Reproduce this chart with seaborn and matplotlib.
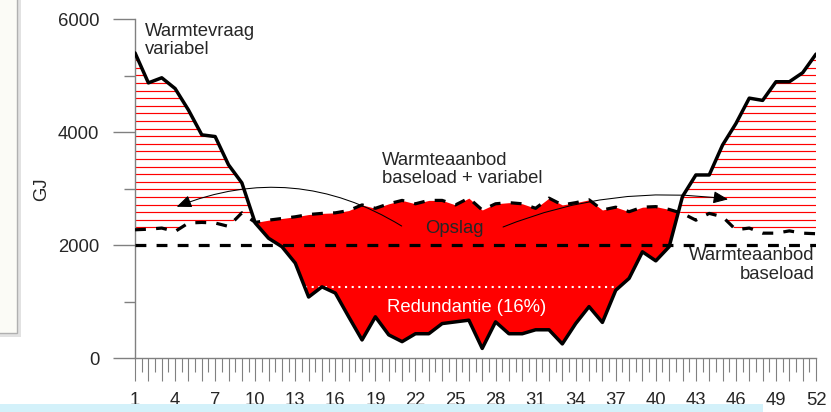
import numpy as np
import matplotlib
matplotlib.use("Agg")
import matplotlib.pyplot as plt
from matplotlib.path import Path
from matplotlib.patches import Rectangle
import seaborn as sns

# Data (GJ per week)
weeks = list(range(1, 53))
warmtevraag = [5400, 4870, 4960, 4770, 4390, 3950, 3920, 3420, 3100, 2390,
               2120, 1970, 1680, 1080, 1260, 1150, 730, 320, 730, 410,
               290, 430, 430, 610, 640, 670, 170, 640, 430, 430,
               500, 500, 250, 610, 910, 630, 1200, 1410, 1880, 1720,
               1970, 2860, 3240, 3240, 3770, 4150, 4600, 4560, 4890, 4890,
               5050, 5380]
aanbod_variabel = [2270, 2280, 2300, 2240, 2390, 2400, 2390, 2330, 2570, 2400,
                   2440, 2470, 2500, 2540, 2560, 2570, 2610, 2710, 2650, 2730,
                   2790, 2730, 2790, 2790, 2710, 2830, 2620, 2730, 2750, 2730,
                   2650, 2830, 2710, 2750, 2800, 2620, 2670, 2590, 2670, 2680,
                   2630, 2560, 2440, 2560, 2500, 2270, 2300, 2210, 2210, 2250,
                   2210, 2200]
aanbod_baseload = [2000] * 52
redundantie_niveau = 1250

y_ticks = [0, 2000, 4000, 6000]
y_minor_ticks = [1000, 3000, 5000]
x_labels = [str(w) if (w - 1) % 3 == 0 else "" for w in weeks]

sns.set_style("white")
plt.rcParams["font.family"] = ["Liberation Sans", "DejaVu Sans"]

fig = plt.figure(figsize=(8.31, 4.12), dpi=100)
ax = fig.add_axes([0.1625, 0.131, 0.8195, 0.8228])

x = np.array(weeks, dtype=float)
vraag = np.array(warmtevraag, dtype=float)
aanbod = np.array(aanbod_variabel, dtype=float)

# vraag boven aanbod: rode horizontale arcering
tekort = ax.fill_between(x, aanbod, vraag, where=vraag > aanbod, interpolate=True,
                         facecolor="none", edgecolor="none", lw=0)
clip = Path.make_compound_path(*tekort.get_paths())
arcering = ax.hlines(np.arange(25, 6000, 134.5), 1, 52, colors="#ff0000", lw=0.85, zorder=1)
arcering.set_clip_path(clip, ax.transData)

# aanbod boven vraag: opslag (rood gevuld)
ax.fill_between(x, vraag, aanbod, where=aanbod >= vraag, interpolate=True,
                color="#ff0000", lw=0, zorder=2)

# redundantie-lijn tussen de snijpunten met de vraag
onder = np.where(vraag < redundantie_niveau)[0]
i0, i1 = onder[0], onder[-1]
x_start = np.interp(redundantie_niveau, [vraag[i0], vraag[i0 - 1]], [x[i0], x[i0 - 1]])
x_eind = np.interp(redundantie_niveau, [vraag[i1], vraag[i1 + 1]], [x[i1], x[i1 + 1]])
ax.hlines(redundantie_niveau, x_start, x_eind, colors="white", lw=1.5,
          linestyles=(0, (1, 2.2)), zorder=3)

# lijnen
dash = (0, (3.4, 3.2))
sns.lineplot(x=weeks, y=aanbod_baseload, ax=ax, color="black", lw=2.3, linestyle=dash, zorder=3)
sns.lineplot(x=weeks, y=aanbod_variabel, ax=ax, color="black", lw=2.3, linestyle=dash, zorder=3)
sns.lineplot(x=weeks, y=warmtevraag, ax=ax, color="black", lw=2.5, zorder=4)

# teksten
fs = 13.3
ax.text(1.75, 5930, "Warmtevraag\nvariabel", fontsize=fs, ha="left", va="top", linespacing=1.1)
ax.text(19.5, 3650, "Warmteaanbod\nbaseload + variabel", fontsize=fs, ha="left", va="top", linespacing=1.1)
ax.text(24.9, 2207, "Opslag", fontsize=fs, ha="center", va="baseline")
ax.text(51.9, 1960, "Warmteaanbod\nbaseload", fontsize=fs, ha="right", va="top", linespacing=1.1)
ax.text(25.86, 820, "Redundantie (16%)", fontsize=fs, ha="center", va="baseline", color="white")

# pijlen
pijl = "-|>,head_length=0.6,head_width=0.25"
ax.annotate("", xy=(4.12, 2678), xytext=(20.97, 2336),
            arrowprops=dict(arrowstyle=pijl, connectionstyle="arc3,rad=0.25", color="black",
                            lw=0.75, shrinkA=0, shrinkB=0, mutation_scale=15), zorder=5)
ax.annotate("", xy=(45.41, 2809), xytext=(28.56, 2319),
            arrowprops=dict(arrowstyle=pijl, connectionstyle="angle3,angleA=22,angleB=172",
                            color="black", lw=0.75, shrinkA=0, shrinkB=0, mutation_scale=15), zorder=5)

# assen
ax.set_xlim(1, 52)
ax.set_ylim(0, 6000)
ax.set_xticks(weeks)
ax.set_xticklabels(x_labels)
ax.set_xticks(np.arange(1.5, 52, 1), minor=True)
ax.set_yticks(y_ticks)
ax.set_yticks(y_minor_ticks, minor=True)
ax.set_xlabel("")
ax.set_ylabel("GJ", fontsize=fs)
ax.yaxis.set_label_coords(-0.125, 0.4985)

grijs = "#808080"
ax.tick_params(axis="y", which="major", left=True, length=15.8, width=1, color=grijs, pad=10, labelsize=fs)
ax.tick_params(axis="y", which="minor", left=True, length=8, width=1, color=grijs)
ax.tick_params(axis="x", which="major", bottom=True, length=16.3, width=0.8, color=grijs, pad=8, labelsize=fs)
ax.tick_params(axis="x", which="minor", bottom=True, length=10, width=0.8, color=grijs)
for side in ["top", "right"]:
    ax.spines[side].set_visible(False)
for side in ["left", "bottom"]:
    ax.spines[side].set_color(grijs)
    ax.spines[side].set_linewidth(1)

# schermafdruk-randen
fig.add_artist(Rectangle((-0.02, 75 / 412), 0.02 + 21 / 831, 1, transform=fig.transFigure,
                         facecolor="#e2e2e2", edgecolor="none", zorder=5))
fig.add_artist(Rectangle((-0.02, 79 / 412), 0.02 + 17 / 831, 1, transform=fig.transFigure,
                         facecolor="#fbfbf6", edgecolor="#b0b0b0", lw=1, zorder=6))
fig.add_artist(Rectangle((0, 0), 763 / 831, 8 / 412, transform=fig.transFigure,
                         facecolor="#d3f1fa", edgecolor="none", zorder=6))

fig.savefig("out.png", dpi=100)
